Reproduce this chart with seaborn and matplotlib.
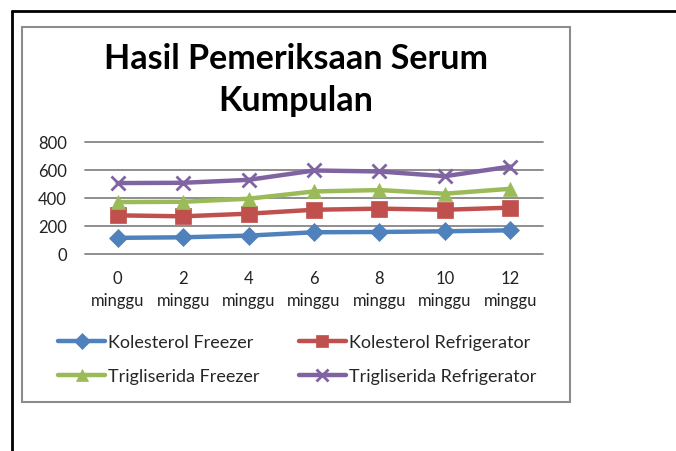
import matplotlib
matplotlib.use("Agg")
import matplotlib.pyplot as plt
import seaborn as sns
import pandas as pd
from matplotlib.patches import Rectangle
from matplotlib.lines import Line2D

categories = ["0\nminggu", "2\nminggu", "4\nminggu", "6\nminggu", "8\nminggu", "10\nminggu", "12\nminggu"]
kolesterol_freezer = [112, 116, 128, 152, 154, 159, 166]
kolesterol_refrigerator = [273, 266, 285, 313, 321, 313, 328]
trigliserida_freezer = [368, 370, 392, 444, 454, 428, 463]
trigliserida_refrigerator = [504, 506, 527, 594, 587, 553, 622]
series_names = ["Kolesterol Freezer", "Kolesterol Refrigerator", "Trigliserida Freezer", "Trigliserida Refrigerator"]
yticks = [0, 200, 400, 600, 800]

series_values = [kolesterol_freezer, kolesterol_refrigerator, trigliserida_freezer, trigliserida_refrigerator]
rows = []
for name, vals in zip(series_names, series_values):
    for i, v in enumerate(vals):
        rows.append({"pos": i, "value": v, "series": name})
df = pd.DataFrame(rows)

sns.set_theme(style="white")
plt.rcParams["font.family"] = ["Lato", "DejaVu Sans"]

colors = ["#4F81BD", "#C0504D", "#9BBB59", "#8064A2"]
markers = ["D", "s", "^", "x"]
msizes = [9, 11, 10, 10]

W, H = 676, 452
fig = plt.figure(figsize=(W / 100, H / 100), dpi=100)
fig.patch.set_facecolor("white")

# outer black border (top and left)
fig.add_artist(Line2D([12 / W, 1.0], [1 - 12 / H, 1 - 12 / H], color="black", lw=2, transform=fig.transFigure))
fig.add_artist(Line2D([12 / W, 12 / W], [1 - 12 / H, 0], color="black", lw=2, transform=fig.transFigure))
# gray chart box
fig.add_artist(Rectangle((22 / W, 1 - 403 / H), (570 - 22) / W, (403 - 28) / H,
                         fill=False, edgecolor="#8C8C8C", lw=1.5, transform=fig.transFigure))

ax = fig.add_axes([85 / W, 1 - 254.5 / H, (543 - 85) / W, (254.5 - 142.7) / H])
ax.set_facecolor("none")

for i, name in enumerate(series_names):
    sub = df[df["series"] == name]
    sns.lineplot(data=sub, x="pos", y="value", ax=ax, color=colors[i], lw=3.2,
                 marker=markers[i], markersize=msizes[i],
                 markeredgecolor=colors[i], markeredgewidth=2 if markers[i] == "x" else 0.5,
                 label=name, legend=False, zorder=3)

ax.set_xlim(-0.5, 6.5)
ax.set_ylim(0, 800)
ax.set_yticks(yticks)
ax.set_yticklabels([str(t) for t in yticks], fontsize=12, color="#222222")
ax.set_xticks(range(len(categories)))
ax.set_xticklabels(categories, fontsize=12, color="#222222", linespacing=1.45)
ax.tick_params(axis="both", length=0)
ax.tick_params(axis="x", pad=12)
ax.tick_params(axis="y", pad=13)
ax.set_xlabel("")
ax.set_ylabel("")
for s in ax.spines.values():
    s.set_visible(False)
for t in yticks:
    ax.axhline(t, color="#868686", lw=1.3, zorder=1, clip_on=False)

fig.text(296 / W, 1 - 80 / H, "Hasil Pemeriksaan Serum\nKumpulan", ha="center", va="center",
         fontsize=24.5, fontweight="bold", color="black", linespacing=1.4)

handles = [Line2D([0], [0], color=c, lw=3.2, marker=m, markersize=ms * 0.85,
                  markeredgecolor=c, markeredgewidth=2 if m == "x" else 0.5)
           for c, m, ms in zip(colors, markers, msizes)]
order = [0, 2, 1, 3]
fig.legend([handles[k] for k in order], [series_names[k] for k in order],
           loc="center", bbox_to_anchor=(297 / W, 1 - 360 / H),
           ncol=2, frameon=False, fontsize=13, handlelength=2.6, handletextpad=0.15,
           columnspacing=2.2, labelspacing=1.0)

fig.savefig("out.png", dpi=100, facecolor="white")
